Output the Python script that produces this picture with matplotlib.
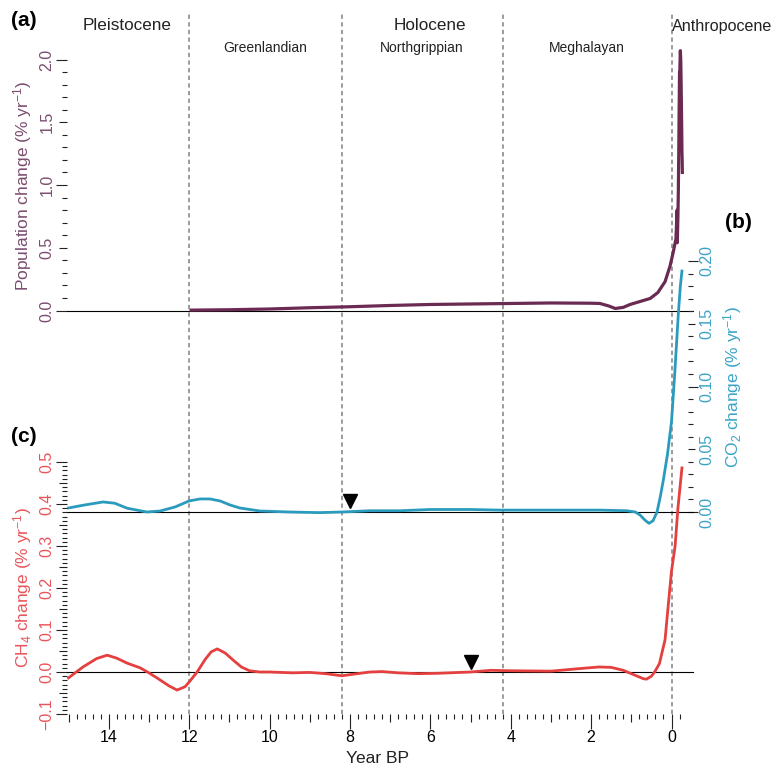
import numpy as np
import matplotlib.pyplot as plt

plt.rcParams['font.family'] = ['Liberation Sans', 'DejaVu Sans']
plt.rcParams['mathtext.fontset'] = 'custom'
plt.rcParams['mathtext.rm'] = 'Liberation Sans'
plt.rcParams['mathtext.it'] = 'Liberation Sans:italic'

# --- data (ka BP) ---
pop_year = [11.95, 11.0, 10.0, 9.0, 8.0, 7.0, 6.0, 5.0, 4.0, 3.0, 2.0, 1.78, 1.55, 1.4, 1.2,
            1.03, 0.78, 0.53, 0.34, 0.16, 0.04, -0.04, -0.11, -0.14, -0.145, -0.15, -0.16,
            -0.17, -0.18, -0.19, -0.20, -0.205, -0.21, -0.22, -0.23, -0.24, -0.25, -0.26,
            -0.265, -0.27]
pop_val = [0.003, 0.006, 0.012, 0.022, 0.030, 0.040, 0.048, 0.052, 0.056, 0.060, 0.058, 0.056,
           0.035, 0.016, 0.025, 0.048, 0.072, 0.096, 0.143, 0.23, 0.35, 0.46, 0.57, 0.80,
           0.54, 0.62, 0.75, 0.95, 1.25, 1.60, 1.90, 1.83, 1.95, 2.07, 2.00, 1.80, 1.55, 1.27,
           1.20, 1.10]

co2_year = [15.0, 14.6, 14.14, 13.85, 13.54, 13.05, 12.72, 12.35, 12.0, 11.73, 11.48, 11.23,
            10.98, 10.74, 10.24, 9.5, 8.75, 8.2, 7.5, 6.75, 6.0, 5.0, 4.27, 3.0, 1.78, 1.11,
            0.9, 0.78, 0.66, 0.56, 0.46, 0.36, 0.28, 0.2, 0.1, 0.0, -0.08, -0.17, -0.22, -0.26]
co2_val = [0.0032, 0.0056, 0.008, 0.007, 0.003, 0.0, 0.0008, 0.004, 0.0088, 0.0104, 0.0104,
           0.0088, 0.0056, 0.0032, 0.0008, 0.0, -0.0005, 0.0, 0.001, 0.001, 0.002, 0.002,
           0.0015, 0.0015, 0.0015, 0.001, 0.0, -0.0025, -0.0065, -0.009, -0.007, 0.0, 0.012,
           0.026, 0.046, 0.072, 0.11, 0.158, 0.18, 0.192]

ch4_year = [15.0, 14.64, 14.3, 14.04, 13.8, 13.54, 13.22, 13.0, 12.8, 12.5, 12.3, 12.1, 12.0,
            11.8, 11.6, 11.45, 11.3, 11.1, 10.9, 10.7, 10.5, 10.25, 10.0, 9.43, 9.0, 8.6, 8.2,
            7.9, 7.5, 7.2, 6.8, 6.3, 5.8, 5.0, 4.5, 4.0, 3.0, 2.3, 1.8, 1.5, 1.2, 0.9, 0.7,
            0.62, 0.5, 0.42, 0.3, 0.16, 0.08, 0.0, -0.09, -0.16, -0.26]
ch4_val = [-0.014, 0.012, 0.032, 0.040, 0.033, 0.021, 0.010, -0.002, -0.014, -0.033, -0.043,
           -0.035, -0.024, 0.0, 0.030, 0.048, 0.055, 0.045, 0.028, 0.012, 0.003, 0.0, 0.0,
           -0.002, -0.001, -0.004, -0.009, -0.005, 0.0, 0.001, -0.002, -0.004, -0.003, 0.0,
           0.004, 0.003, 0.002, 0.008, 0.012, 0.011, 0.004, -0.008, -0.016, -0.017, -0.010,
           0.0, 0.02, 0.077, 0.16, 0.24, 0.30, 0.39, 0.486]

boundaries = [12.0, 8.2, 4.2, 0.0]
co2_marker = (8.0, 0.0088)
ch4_marker = (5.0, 0.025)

pop_col, pop_txt = '#6a2a52', '#7b4d6f'
co2_col, co2_txt = '#2a9bbd', '#3ba3c6'
ch4_col, ch4_txt = '#e3403f', '#e8555a'

W, H = 778, 768
fig = plt.figure(figsize=(W / 100, H / 100), dpi=100)

L, R, T, B = 67, 688, 10, 714
rect = [L / W, 1 - B / H, (R - L) / W, (B - T) / H]
x0, sx = 671.5, 40.2


def ylims(zero_px, scale):
    return (-(B - zero_px) / scale, (zero_px - T) / scale)


axes = []
for name in ['pop', 'co2', 'ch4']:
    a = fig.add_axes(rect, label=name)
    a.set_facecolor('none')
    for s in a.spines.values():
        s.set_visible(False)
    a.set_xlim(15 + (x0 - sx * 15 - L) / sx, -(R - x0) / sx)
    axes.append(a)
ax_pop, ax_co2, ax_ch4 = axes
ax_pop.set_ylim(*ylims(310.5, 125.5))
ax_co2.set_ylim(*ylims(512, 1255))
ax_ch4.set_ylim(*ylims(672, 420))

for a in (ax_pop, ax_co2):
    a.tick_params(axis='x', which='both', bottom=False, labelbottom=False)

# boundaries
for b in boundaries:
    ax_pop.axvline(b, ymin=0, ymax=0.995, color='#808080', lw=1.1, ls=(0, (2.8, 2.2)), zorder=1)

# zero lines
ax_pop.axhline(0, xmin=0, xmax=1.008, color='black', lw=0.8, clip_on=False)
ax_co2.axhline(0, xmin=0, xmax=1.008, color='black', lw=0.8, clip_on=False)
ax_ch4.axhline(0, xmin=0, xmax=1.008, color='black', lw=0.8, clip_on=False)

ax_pop.plot(pop_year, pop_val, color=pop_col, lw=2.3, zorder=3)
ax_co2.plot(co2_year, co2_val, color=co2_col, lw=2.0, zorder=3)
ax_ch4.plot(ch4_year, ch4_val, color=ch4_col, lw=2.0, zorder=3)

ax_co2.plot(*co2_marker, marker='v', ms=9.4, color='black', ls='none')
ax_ch4.plot(*ch4_marker, marker='v', ms=9.4, color='black', ls='none')

tick_kw = dict(direction='out', color='#222222', width=0.8, labelsize=11.5)
minor_kw = dict(direction='out', color='#222222', width=0.8, length=3.6)

# x axis
xmaj = list(range(0, 16))
ax_ch4.set_xticks(xmaj)
ax_ch4.set_xticklabels([str(v) if v % 2 == 0 else '' for v in xmaj])
ax_ch4.set_xticks(np.arange(-0.2, 15.01, 0.2), minor=True)
ax_ch4.tick_params(axis='x', which='major', length=10.8, pad=1, **tick_kw)
ax_ch4.tick_params(axis='x', which='minor', **minor_kw)
for t, v in zip(ax_ch4.xaxis.get_major_ticks(), xmaj):
    if v % 2:
        t.tick1line.set_markersize(5.8)
ax_ch4.set_xlabel('Year BP', fontsize=12.5, labelpad=4, color='#222222')

# population axis
pmaj = [0, 0.5, 1.0, 1.5, 2.0]
ax_pop.set_yticks(pmaj)
ax_pop.set_yticklabels(['%.1f' % v for v in pmaj])
ax_pop.set_yticks(np.arange(0, 2.01, 0.1), minor=True)
ax_pop.tick_params(axis='y', which='major', length=7.9, pad=1, labelcolor=pop_txt, **tick_kw)
ax_pop.tick_params(axis='y', which='minor', **minor_kw)
for t, v in zip(ax_pop.yaxis.get_major_ticks(), pmaj):
    if v % 1:
        t.tick1line.set_markersize(5.8)
plt.setp(ax_pop.get_yticklabels(), rotation=90, va='center')


def ch4_label(v):
    if round(v * 100) % 10:
        return ''
    if v < 0:
        return '\u2212%.1f' % abs(v)
    return '%.1f' % v


# CH4 axis
cmaj = [-0.1, -0.05, 0.0, 0.05, 0.1, 0.15, 0.2, 0.25, 0.3, 0.35, 0.4, 0.45, 0.5]
ax_ch4.set_yticks(cmaj)
ax_ch4.set_yticklabels([ch4_label(v) for v in cmaj])
ax_ch4.set_yticks(np.arange(-0.1, 0.501, 0.01), minor=True)
ax_ch4.tick_params(axis='y', which='major', length=7.9, pad=1, labelcolor=ch4_txt, **tick_kw)
ax_ch4.tick_params(axis='y', which='minor', **minor_kw)
for t, v in zip(ax_ch4.yaxis.get_major_ticks(), cmaj):
    if round(v * 100) % 10:
        t.tick1line.set_markersize(5.8)
plt.setp(ax_ch4.get_yticklabels(), rotation=90, va='center')

# CO2 axis (right)
omaj = [0.0, 0.05, 0.10, 0.15, 0.20]
ax_co2.yaxis.tick_right()
ax_co2.set_yticks(omaj)
ax_co2.set_yticklabels(['%.2f' % v for v in omaj])
ax_co2.set_yticks(np.arange(0, 0.201, 0.01), minor=True)
ax_co2.tick_params(axis='y', which='major', length=7.2, pad=1, labelcolor=co2_txt, **tick_kw)
ax_co2.tick_params(axis='y', which='minor', **minor_kw)
for t, v in zip(ax_co2.yaxis.get_major_ticks(), omaj):
    if round(v * 100) % 10:
        t.tick2line.set_markersize(5.0)
plt.setp(ax_co2.get_yticklabels(), rotation=90, va='center', ha='left')


def ftext(x, y, s, **kw):
    fig.text(x / W, 1 - y / H, s, **kw)


# axis titles
ftext(23, 186, 'Population change (% yr$^{-1}$)', rotation=90, ha='center', va='center',
      fontsize=12.5, color=pop_txt)
ftext(733, 387, 'CO$_2$ change (% yr$^{-1}$)', rotation=90, ha='center', va='center',
      fontsize=12.5, color=co2_txt)
ftext(23, 588, 'CH$_4$ change (% yr$^{-1}$)', rotation=90, ha='center', va='center',
      fontsize=12.5, color=ch4_txt)

# epochs and ages
ftext(127, 26, 'Pleistocene', ha='center', va='center', fontsize=12.3, color='#222222')
ftext(430, 26, 'Holocene', ha='center', va='center', fontsize=12.3, color='#222222')
ftext(672, 26, 'Anthropocene', ha='left', va='center', fontsize=11.6, color='#222222')
ftext(265, 48, 'Greenlandian', ha='center', va='center', fontsize=10, color='#222222')
ftext(422, 48, 'Northgrippian', ha='center', va='center', fontsize=10, color='#222222')
ftext(587, 48, 'Meghalayan', ha='center', va='center', fontsize=10, color='#222222')

# panel letters
ftext(24, 20, '(a)', ha='center', va='center', fontsize=15, fontweight='bold')
ftext(738, 222, '(b)', ha='center', va='center', fontsize=15, fontweight='bold')
ftext(24, 437, '(c)', ha='center', va='center', fontsize=15, fontweight='bold')

fig.savefig('out.png', dpi=100)
